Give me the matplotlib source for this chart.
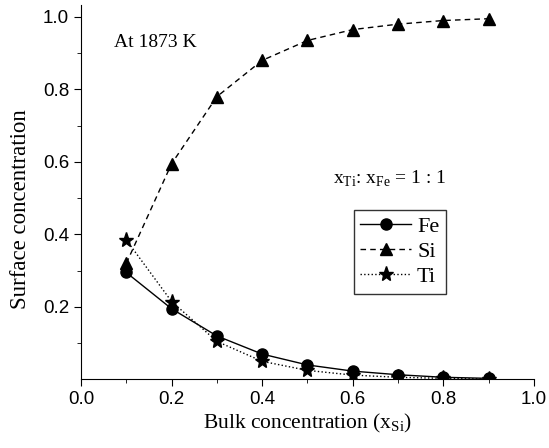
import numpy as np
import matplotlib.pyplot as plt

# Data
x_bulk = [0.1, 0.2, 0.3, 0.4, 0.5, 0.6, 0.7, 0.8, 0.9]
fe = [0.295, 0.195, 0.12, 0.07, 0.04, 0.023, 0.013, 0.006, 0.003]
si = [0.32, 0.595, 0.78, 0.88, 0.935, 0.965, 0.98, 0.99, 0.995]
ti = [0.385, 0.215, 0.105, 0.05, 0.025, 0.012, 0.006, 0.003, 0.001]

serif = "Liberation Serif"
sans = "Liberation Sans"

fig = plt.figure(figsize=(5.49, 4.48), dpi=100)
ax = fig.add_axes([0.1475, 0.153, 0.8252, 0.836])

ax.plot(x_bulk, fe, "k-", marker="o", markersize=8, lw=1, label="Fe")
ax.plot(x_bulk, si, "k--", marker="^", markersize=9, lw=1, dashes=(4, 3), label="Si")
ax.plot(x_bulk, ti, "k:", marker="*", markersize=11, lw=1, label="Ti")

ax.set_xlim(0, 1.0)
ax.set_ylim(0, 1.033)
ax.set_xticks([0.0, 0.2, 0.4, 0.6, 0.8, 1.0])
ax.set_xticks([0.1, 0.3, 0.5, 0.7, 0.9], minor=True)
ax.set_yticks([0.2, 0.4, 0.6, 0.8, 1.0])
ax.set_yticks([0.1, 0.3, 0.5, 0.7, 0.9], minor=True)
ax.tick_params(which="major", direction="out", length=5, labelsize=13.5)
ax.tick_params(which="minor", direction="out", length=3)
for lab in ax.get_xticklabels() + ax.get_yticklabels():
    lab.set_fontfamily(sans)

ax.spines["top"].set_visible(False)
ax.spines["right"].set_visible(False)

ax.set_xlabel(r"Bulk concentration (x$_{\mathregular{Si}}$)", fontfamily=serif, fontsize=15.5, labelpad=3)
ax.set_ylabel("Surface concentration", fontfamily=serif, fontsize=16.5)
ax.yaxis.set_label_coords(-0.11, 0.455)

ax.text(0.072, 0.918, "At 1873 K", fontfamily=serif, fontsize=14)
ax.text(0.557, 0.54, r"x$_{\mathregular{Ti}}$: x$_{\mathregular{Fe}}$ = 1 : 1",
        fontfamily=serif, fontsize=14)

leg = ax.legend(loc="upper left", bbox_to_anchor=(0.602, 0.453), frameon=True,
                fancybox=False, edgecolor="black", handlelength=2.3,
                prop={"family": serif, "size": 16}, borderpad=0.3,
                labelspacing=0.2, handletextpad=0.25, borderaxespad=0)
leg.get_frame().set_linewidth(1)

plt.savefig("out.png", dpi=100)
